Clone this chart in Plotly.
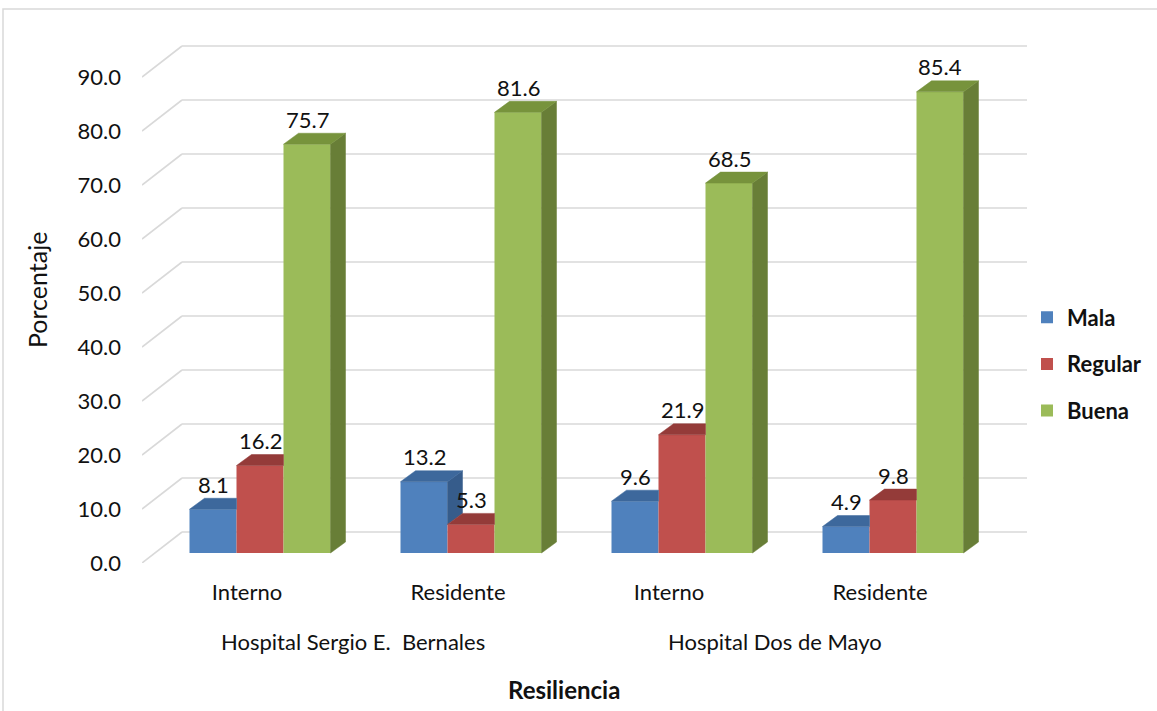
import plotly.graph_objects as go

# ---- data ----
hospitals = ["Hospital Sergio E.  Bernales", "Hospital Dos de Mayo"]
roles = ["Interno", "Residente", "Interno", "Residente"]
series_names = ["Mala", "Regular", "Buena"]
mala = [8.1, 13.2, 9.6, 4.9]
regular = [16.2, 5.3, 21.9, 9.8]
buena = [75.7, 81.6, 68.5, 85.4]
y_ticks = [0, 10, 20, 30, 40, 50, 60, 70, 80, 90]

series_values = [mala, regular, buena]

# ---- styling ----
FRONT = ["#4F81BD", "#C0504D", "#9BBB59"]
TOP = ["#3D689C", "#943B39", "#77933C"]
SIDE = ["#365C8B", "#7F302E", "#687E37"]
GRID = "#D9D9D9"
FONT = "Lato"
TXT = "#111111"
FS = 22

# ---- geometry (pixels -> axis units) ----
W, H = 1157, 711
PLOT_L, PLOT_R, PLOT_T, PLOT_B = 142, 1027, 31, 563
PX_Y = 5.4          # pixels per percentage point
PX_X = 211          # pixels per category step
X0_PX = 247         # front-plane position of first category

x_lo = (PLOT_L - X0_PX) / PX_X
x_hi = (PLOT_R - X0_PX) / PX_X
y_hi = (PLOT_B - PLOT_T) / PX_Y

WALL_DX, WALL_DY = 40 / PX_X, 31 / PX_Y   # front edge -> back wall
ROW_DX, ROW_DY = 13 / PX_X, 10 / PX_Y     # front edge -> bar front faces
BAR_W = 47 / PX_X                          # bar width
BAR_DX, BAR_DY = 15 / PX_X, 11 / PX_Y      # bar depth

n_cat = len(roles)
n_ser = len(series_names)

def bar_center(g, i):
    return g + ROW_DX + (i - (n_ser - 1) / 2) * BAR_W

fig = go.Figure()

# front faces
for i, (name, vals) in enumerate(zip(series_names, series_values)):
    fig.add_trace(go.Bar(
        x=[bar_center(g, i) for g in range(n_cat)],
        y=vals,
        base=[ROW_DY] * n_cat,
        width=BAR_W,
        name=name,
        legendgroup=name,
        marker=dict(color=FRONT[i], line=dict(width=0)),
        hoverinfo="name+text",
        text=[f"{v:.1f}" for v in vals],
        textposition="none",
    ))

# top and side faces
def face(xs, ys, color):
    fig.add_trace(go.Scatter(
        x=xs + [xs[0]], y=ys + [ys[0]], mode="lines", fill="toself",
        fillcolor=color, line=dict(color=color, width=0.5),
        hoverinfo="skip", showlegend=False,
    ))

for g in range(n_cat):
    for i in range(n_ser):
        v = series_values[i][g]
        c = bar_center(g, i)
        x0, x1 = c - BAR_W / 2, c + BAR_W / 2
        T = v + ROW_DY
        nxt = series_values[i + 1][g] + ROW_DY if i < n_ser - 1 else ROW_DY
        # side face (only the part not hidden by the next bar)
        if T > nxt:
            face([x1, x1 + BAR_DX, x1 + BAR_DX, x1],
                 [nxt, nxt + BAR_DY, T + BAR_DY, T], SIDE[i])
        # top face (clipped where a taller neighbour stands in front)
        if i < n_ser - 1 and nxt >= T:
            face([x0, x1, x1, x0 + BAR_DX],
                 [T, T, T + BAR_DY, T + BAR_DY], TOP[i])
        else:
            face([x0, x1, x1 + BAR_DX, x0 + BAR_DX],
                 [T, T, T + BAR_DY, T + BAR_DY], TOP[i])

# gridlines: floor diagonals + back wall
shapes = []
for t in y_ticks:
    shapes.append(dict(type="line", xref="x", yref="y", layer="below",
                       x0=x_lo, y0=t, x1=x_lo + WALL_DX, y1=t + WALL_DY,
                       line=dict(color=GRID, width=1.6)))
    shapes.append(dict(type="line", xref="x", yref="y", layer="below",
                       x0=x_lo + WALL_DX, y0=t + WALL_DY, x1=x_hi, y1=t + WALL_DY,
                       line=dict(color=GRID, width=1.6)))

# chart border
pw, ph = PLOT_R - PLOT_L, PLOT_B - PLOT_T
shapes.append(dict(type="rect", xref="paper", yref="paper", layer="below",
                   x0=(3 - PLOT_L) / pw, x1=(W + 3 - PLOT_L) / pw,
                   y0=(PLOT_B - (H + 5)) / ph, y1=(PLOT_B - 9) / ph,
                   line=dict(color=GRID, width=1.5)))

annotations = []
# value labels
for i in range(n_ser):
    for g in range(n_cat):
        v = series_values[i][g]
        annotations.append(dict(
            x=bar_center(g, i), y=v + ROW_DY, xref="x", yref="y",
            text=f"{v:.1f}", showarrow=False, yanchor="middle", yshift=25,
            font=dict(family=FONT, size=FS, color=TXT)))

# hospital labels under each pair of categories
for h, name in enumerate(hospitals):
    annotations.append(dict(
        x=2 * h + 0.5, y=(PLOT_B - 641) / ph, xref="x", yref="paper",
        text=name, showarrow=False, yanchor="middle",
        font=dict(family=FONT, size=FS, color=TXT)))

# axis titles
annotations.append(dict(
    x=(n_cat - 1) / 2, y=(PLOT_B - 689) / ph, xref="x", yref="paper",
    text="<b>Resiliencia</b>", showarrow=False, yanchor="middle",
    font=dict(family=FONT, size=24, color=TXT)))
annotations.append(dict(
    x=(37 - PLOT_L) / pw, y=(PLOT_B - 290) / ph, xref="paper", yref="paper",
    text="Porcentaje", showarrow=False, textangle=-90,
    xanchor="center", yanchor="middle",
    font=dict(family=FONT, size=25, color=TXT)))

fig.update_layout(
    width=W, height=H,
    margin=dict(l=PLOT_L, r=W - PLOT_R, t=PLOT_T, b=H - PLOT_B, autoexpand=False),
    paper_bgcolor="white", plot_bgcolor="white",
    barmode="overlay",
    showlegend=True,
    legend=dict(x=1.0, xanchor="left", y=(PLOT_B - 364) / ph, yanchor="middle",
                font=dict(family=FONT, size=FS, color=TXT, weight="bold"),
                tracegroupgap=15, traceorder="grouped",
                bgcolor="rgba(0,0,0,0)"),
    xaxis=dict(range=[x_lo, x_hi], tickvals=list(range(n_cat)), ticktext=roles,
               showgrid=False, zeroline=False, showline=False, ticks="",
               ticklabelstandoff=14,
               tickfont=dict(family=FONT, size=FS, color=TXT), fixedrange=True),
    yaxis=dict(range=[0, y_hi], tickvals=y_ticks,
               ticktext=[f"{t:.1f}" for t in y_ticks],
               showgrid=False, zeroline=False, showline=False, ticks="",
               ticklabelstandoff=20,
               tickfont=dict(family=FONT, size=FS, color=TXT), fixedrange=True),
    shapes=shapes,
    annotations=annotations,
)

fig.write_html("out.html")
